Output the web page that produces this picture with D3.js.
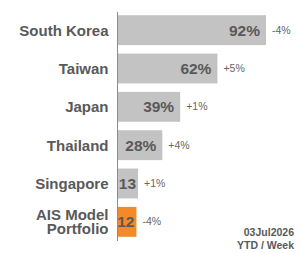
<!DOCTYPE html>
<html>
<head>
<meta charset="utf-8">
<script src="https://cdn.jsdelivr.net/npm/d3@7"></script>
<style>
  body { margin: 0; background: #fff; }
  svg { font-family: "Liberation Sans", Arial, sans-serif; }
</style>
</head>
<body>
<div id="chart"></div>
<script>
// Chart data
const countries = ["South Korea", "Taiwan", "Japan", "Thailand", "Singapore", "AIS Model Portfolio"];
const ytdValues = [92, 62, 39, 28, 13, 12];
const valueLabels = ["92%", "62%", "39%", "28%", "13", "12"];
const weekChanges = ["-4%", "+5%", "+1%", "+4%", "+1%", "-4%"];
const footerLines = ["03Jul2026", "YTD / Week"];

const width = 300, height = 253;
const margin = { top: 11, right: 34, bottom: 12, left: 117 };

const data = countries.map((c, i) => ({
    country: c,
    value: ytdValues[i],
    label: valueLabels[i],
    change: weekChanges[i]
}));

const svg = d3.select("#chart")
    .append("svg")
    .attr("width", width)
    .attr("height", height);

const x = d3.scaleLinear()
    .domain([0, 92])
    .range([margin.left, 266]);

const y = d3.scaleBand()
    .domain(countries)
    .range([margin.top, height - margin.bottom])
    .paddingInner(0.22)
    .paddingOuter(0.11);

// Bars
svg.selectAll(".bar")
    .data(data)
    .enter()
    .append("rect")
    .attr("class", "bar")
    .attr("x", x(0) + 1)
    .attr("y", d => y(d.country))
    .attr("width", d => x(d.value) - x(0) - 1)
    .attr("height", y.bandwidth())
    .style("fill", d => d.country === "AIS Model Portfolio" ? "#f28a2a" : "#c3c3c3");

// Vertical axis line
svg.append("line")
    .attr("x1", x(0) + 0.5)
    .attr("x2", x(0) + 0.5)
    .attr("y1", 12)
    .attr("y2", 241)
    .style("stroke", "#8c8c8c")
    .style("stroke-width", 1);

// Category labels
const catLabels = svg.selectAll(".cat")
    .data(data)
    .enter()
    .append("text")
    .attr("class", "cat")
    .attr("text-anchor", "end")
    .style("font-weight", "bold")
    .style("font-size", "15px")
    .style("fill", "#595959");

catLabels.each(function (d) {
    const t = d3.select(this);
    const cy = y(d.country) + y.bandwidth() / 2;
    if (d.country === "AIS Model Portfolio") {
        t.append("tspan").attr("x", 108.5).attr("y", cy - 1.5).text("AIS Model");
        t.append("tspan").attr("x", 108.5).attr("y", cy + 12.5).text("Portfolio");
    } else {
        t.append("tspan").attr("x", 108.5).attr("y", cy + 5.5).text(d.country);
    }
});

// Value labels inside bars
svg.selectAll(".val")
    .data(data)
    .enter()
    .append("text")
    .attr("class", "val")
    .attr("x", d => x(d.value) - (d.label.endsWith("%") ? 6 : 2))
    .attr("y", d => y(d.country) + y.bandwidth() / 2 + 5.5)
    .attr("text-anchor", "end")
    .style("font-weight", "bold")
    .style("font-size", "15.5px")
    .style("fill", "#595959")
    .text(d => d.label);

// Weekly change labels
svg.selectAll(".chg")
    .data(data)
    .enter()
    .append("text")
    .attr("class", "chg")
    .attr("x", d => x(d.value) + 6)
    .attr("y", d => y(d.country) + y.bandwidth() / 2 + 3.5)
    .style("font-size", "10.5px")
    .style("fill", "#666")
    .text(d => d.change);

// Footer
svg.selectAll(".foot")
    .data(footerLines)
    .enter()
    .append("text")
    .attr("class", "foot")
    .attr("x", 294)
    .attr("y", (d, i) => 236 + i * 12.5)
    .attr("text-anchor", "end")
    .style("font-weight", "bold")
    .style("font-size", "10.5px")
    .style("fill", "#595959")
    .text(d => d);
</script>
</body>
</html>
